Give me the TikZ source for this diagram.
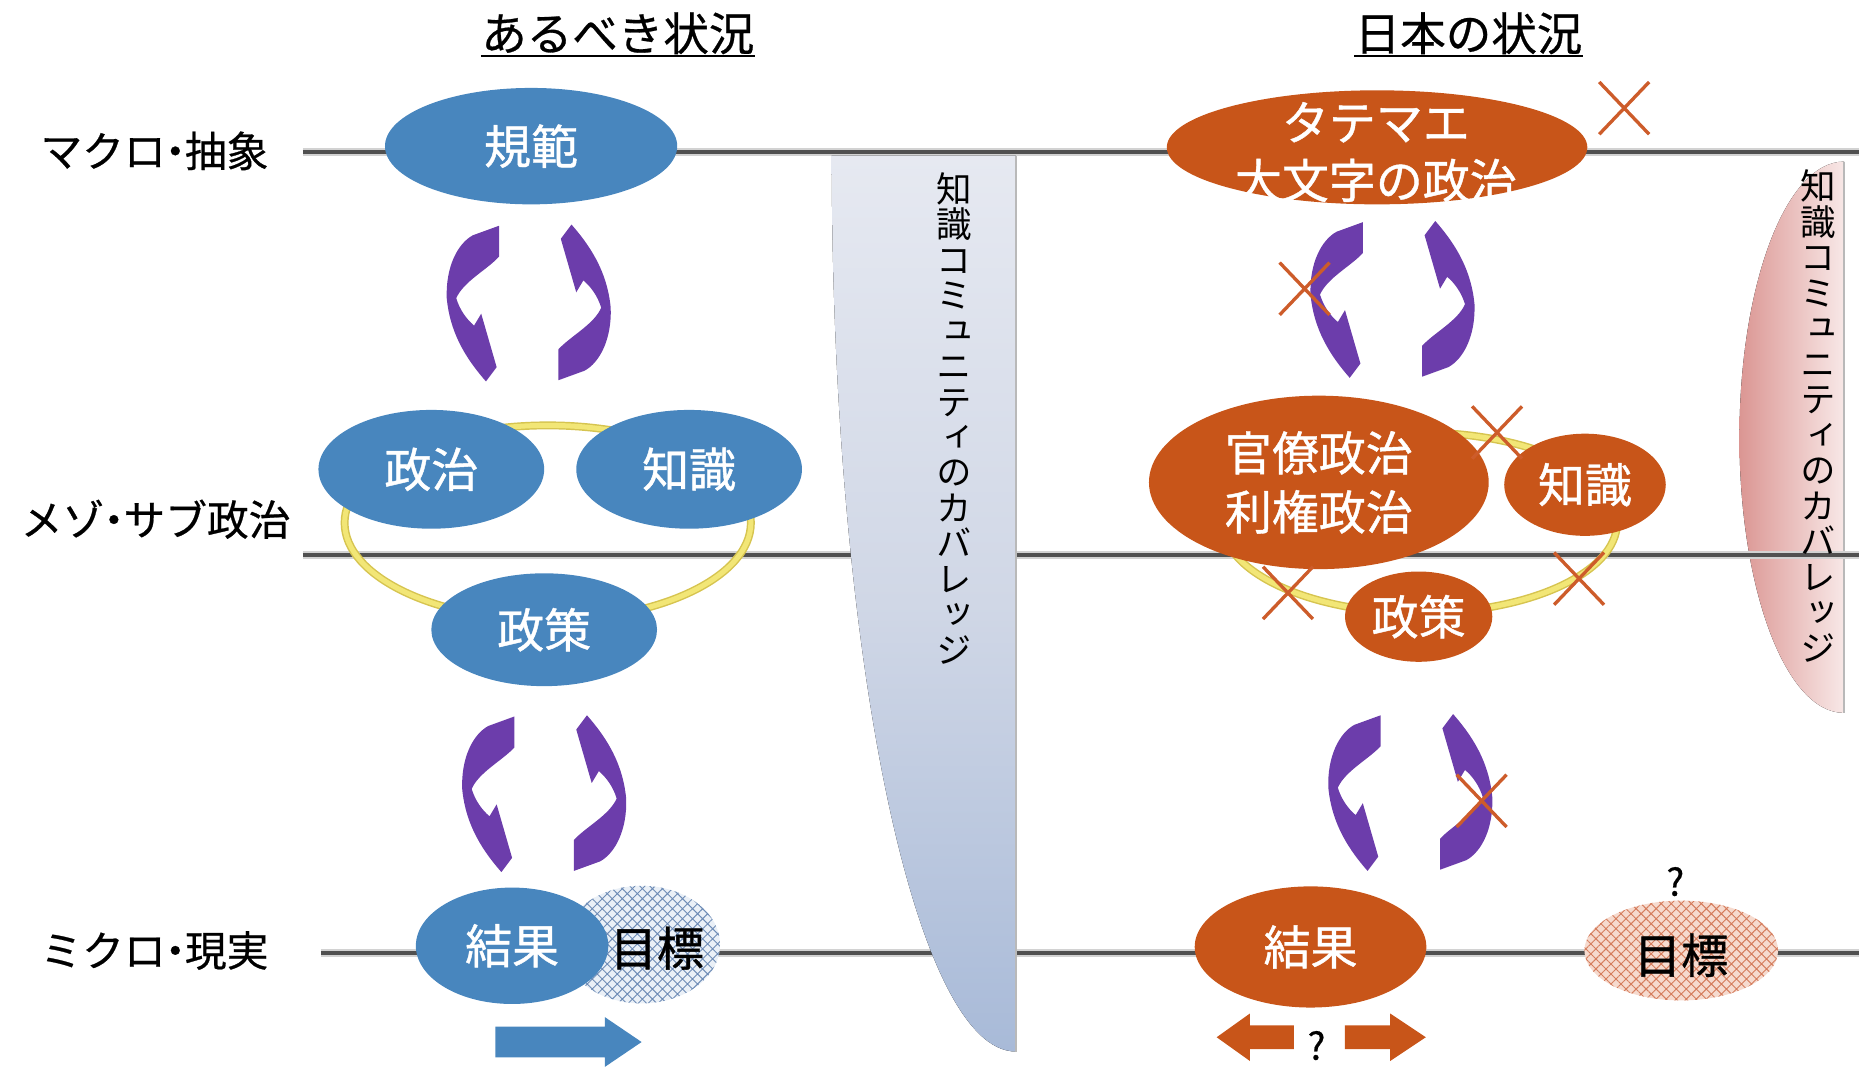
\documentclass[tikz,border=0pt]{standalone}
\usepackage{fontspec}
\setmainfont{Noto Sans CJK JP}
\newfontfamily\jp{Noto Sans CJK JP}[FakeBold=0.6]
\newfontfamily\jpw{Noto Sans CJK JP}[FakeBold=0.9]
\newfontfamily\vjp{Noto Sans CJK JP}[RawFeature=+vert]
\usetikzlibrary{shapes.geometric,patterns.meta}
\definecolor{eblue}{RGB}{72,134,190}
\definecolor{eorange}{RGB}{200,85,25}
\definecolor{purp}{RGB}{108,61,171}
\definecolor{ringY}{RGB}{242,230,118}
\definecolor{ringYd}{RGB}{214,196,80}
\definecolor{xcol}{RGB}{205,92,42}
\definecolor{lvl}{RGB}{80,80,80}
\definecolor{hatchB}{RGB}{110,140,182}
\definecolor{hatchBbg}{RGB}{234,240,247}
\definecolor{hatchO}{RGB}{212,124,92}
\definecolor{hatchObg}{RGB}{246,218,206}
\definecolor{covTop}{RGB}{230,233,241}
\definecolor{covMid}{RGB}{208,215,230}
\definecolor{covBot}{RGB}{168,186,216}
\definecolor{pinkL}{RGB}{219,150,147}
\definecolor{pinkR}{RGB}{248,232,231}
\newcommand\dotk{\kern-.27em・\kern-.27em}
\newcommand\cycarrowpath{(-47,-57) -- (-25,-65) -- (-25,-39)
      .. controls (-35,-28) and (-55,-18) .. (-61,-4)
      .. controls (-58,6) and (-52,14) .. (-46,19)
      -- (-40,9) -- (-27,54) -- (-36,66)
      .. controls (-50,50) and (-66,28) .. (-69,-4)
      .. controls (-70,-30) and (-60,-50) .. (-47,-57) -- cycle}
\begin{document}
\begin{tikzpicture}[x=0.02cm,y=-0.02cm,
  lvlline/.style={lvl,line width=2.2pt},
  lvlshadow/.style={gray!35,line width=4pt},
  ell/.style={ellipse,inner sep=0pt,font=\jpw\fontsize{22.5}{22.5}\selectfont},
  bell/.style={ell,fill=eblue,text=white},
  oell/.style={ell,fill=eorange,text=white},
  ring/.style={ellipse,inner sep=0pt,draw=ringYd,line width=3.8pt,
    postaction={draw=ringY,line width=2.4pt}},
  lab/.style={inner sep=0pt,font=\jpw\fontsize{22.5}{22.5}\selectfont},
  title/.style={inner sep=0pt,font=\jp\fontsize{21.8}{21.8}\selectfont},
  rowlab/.style={inner sep=0pt,font=\jp\fontsize{20}{20}\selectfont},
  vtext/.style={inner sep=0pt,align=center,font=\vjp\fontsize{17}{17}\selectfont},
  qm/.style={inner sep=0pt,font=\jp\fontsize{18}{18}\selectfont},
  cycpair/.pic={
    \fill[purp] \cycarrowpath;
    \begin{scope}[rotate=180]
    \fill[purp] \cycarrowpath;
    \end{scope}
  },
  xmark/.pic={\draw[xcol,line width=1.6pt] (-21,-22) -- (21,22) (21,-22) -- (-21,22);}
]
\useasboundingbox (0,0) rectangle (1568,900);

% pink coverage shape (right)
\fill[left color=pinkL,right color=pinkR] (1552,136) .. controls (1503,136) and (1464,240) .. (1464,368)
  .. controls (1464,496) and (1503,600) .. (1552,600) -- cycle;
\draw[gray!55,line width=0.6pt] (1552,136) -- (1552,600);

% level lines
\coordinate (a1) at (255,128); \coordinate (b1) at (1565,128);
\coordinate (a2) at (255,467); \coordinate (b2) at (1565,467);
\coordinate (a3) at (270,802); \coordinate (b3) at (1565,802);
\foreach \i in {1,2,3}{
  \draw[lvlshadow] (a\i) -- (b\i);
  \draw[lvlline] (a\i) -- (b\i);
}

% blue coverage shape (middle)
\fill[top color=covTop,bottom color=covBot,middle color=covMid] (700,131) -- (855,131) -- (855,885)
  .. controls (769,885) and (700,547) .. (700,131) -- cycle;
\draw[gray!55,line width=0.7pt] (855,131) -- (855,885);

% yellow rings
\node[ring,minimum width=6.84cm,minimum height=3.28cm] (ringL) at (461,440) {};
\node[ring,minimum width=6.64cm,minimum height=3.04cm] (ringR) at (1195,440) {};

% left ellipses
\node[bell,minimum width=4.92cm,minimum height=1.96cm] (kihan) at (447,123) {規範};
\node[bell,minimum width=3.8cm,minimum height=2cm] (seijiL) at (363,395) {政治};
\node[bell,minimum width=3.8cm,minimum height=2cm] (chishikiL) at (580,395) {知識};
\node[bell,minimum width=3.8cm,minimum height=1.9cm] (seisakuL) at (458,530) {政策};
\node[ell,minimum width=2.64cm,minimum height=1.98cm,
  preaction={fill=hatchBbg},pattern={Hatch[angle=45,distance=3.4pt,line width=0.45pt]},pattern color=hatchB]
  (mokuhyoL) at (540,795) {};
\node[lab] (mokuhyoLt) at (553,798) {目標};
\node[bell,minimum width=3.24cm,minimum height=1.96cm] (kekkaL) at (431,796) {結果};

% right ellipses
\node[oell,minimum width=7.08cm,minimum height=1.92cm] (tatemae) at (1159,124) {};
\node[lab,text=white,align=center,font=\jpw\fontsize{22.5}{27.8}\selectfont] (tatemaet) at (1158,128) {タテマエ\\大文字の政治};
\node[oell,minimum width=5.72cm,minimum height=2.92cm,align=center,font=\jpw\fontsize{22.5}{28.3}\selectfont] (kanryo) at (1110,406) {官僚政治\\利権政治};
\node[oell,minimum width=2.72cm,minimum height=1.72cm] (chishikiR) at (1334,408) {知識};
\node[oell,minimum width=2.48cm,minimum height=1.52cm] (seisakuR) at (1194,519) {政策};
\node[oell,minimum width=3.9cm,minimum height=2.04cm] (kekkaR) at (1103,797) {結果};
\node[ell,minimum width=3.26cm,minimum height=1.68cm,
  preaction={fill=hatchObg},pattern={Hatch[angle=45,distance=3.4pt,line width=0.45pt]},pattern color=hatchO]
  (mokuhyoR) at (1415,800) {};
\node[lab] (mokuhyoRt) at (1415,804) {目標};

% purple cycle arrows
\pic (cycA) at (445,255) {cycpair};
\pic (cycB) at (458,668) {cycpair};
\pic (cycC) at (1172,252) {cycpair};
\pic (cycD) at (1187,667) {cycpair};

% block arrows
\fill[eblue] (417,864) -- (509,864) -- (509,856) -- (540,877) -- (509,898) -- (509,890) -- (417,890) -- cycle;
\fill[eorange] (1089,863) -- (1052,863) -- (1052,853) -- (1024,873) -- (1052,893) -- (1052,883) -- (1089,883) -- cycle;
\fill[eorange] (1132,863) -- (1170,863) -- (1170,853) -- (1200,873) -- (1170,893) -- (1170,883) -- (1132,883) -- cycle;
\node[qm] (q2) at (1108,880) {?};
\node[qm] (q1) at (1410,742) {?};

% X marks
\pic at (1367,91) {xmark};
\pic at (1098,243) {xmark};
\pic at (1260,364) {xmark};
\pic at (1084,499) {xmark};
\pic at (1329,487) {xmark};
\pic at (1247,674) {xmark};

% vertical texts
\node[vtext] (vL) at (803,352) {知\\識\\コ\\ミ\\ュ\\ニ\\テ\\ィ\\の\\カ\\バ\\レ\\ッ\\ジ};
\node[vtext] (vR) at (1530,350) {知\\識\\コ\\ミ\\ュ\\ニ\\テ\\ィ\\の\\カ\\バ\\レ\\ッ\\ジ};

% titles
\coordinate (u) at (0,47);
\node[title] (t1) at (520,28) {あるべき状況};
\node[title] (t2) at (1236,28) {日本の状況};
\draw[line width=1.1pt] (t1.west |- u) -- (t1.east |- u);
\draw[line width=1.1pt] (t2.west |- u) -- (t2.east |- u);

% row labels
\node[rowlab] (r1) at (130,127) {マクロ\dotk 抽象};
\node[rowlab] (r2) at (131,437) {メゾ\dotk サブ政治};
\node[rowlab] (r3) at (130,800) {ミクロ\dotk 現実};
\end{tikzpicture}
\end{document}
